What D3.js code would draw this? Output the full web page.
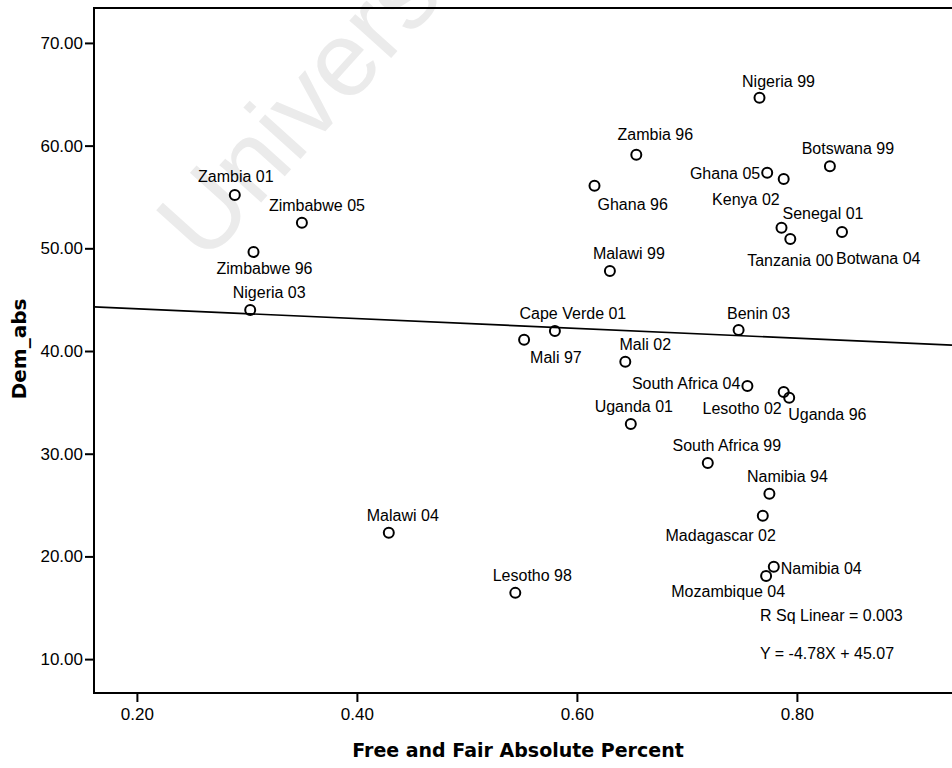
<!DOCTYPE html>
<html>
<head>
<meta charset="utf-8">
<script src="https://cdn.jsdelivr.net/npm/d3@7/dist/d3.min.js"></script>
<style>
  html, body { margin: 0; padding: 0; background: #fff; }
  svg { display: block; }
</style>
</head>
<body>
<svg id="chart" width="952" height="768"></svg>
<script>
// Election cases: country-year label, free-and-fair share (x), democracy score (y)
const cases = ["Zambia 01", "Zimbabwe 05", "Zimbabwe 96", "Nigeria 03", "Malawi 04", "Lesotho 98",
  "Mali 97", "Cape Verde 01", "Mali 02", "Uganda 01", "South Africa 04", "Malawi 99", "Ghana 96",
  "Zambia 96", "Nigeria 99", "Ghana 05", "Kenya 02", "Botswana 99", "Senegal 01", "Tanzania 00",
  "Botwana 04", "Benin 03", "Lesotho 02", "Uganda 96", "South Africa 99", "Namibia 94",
  "Madagascar 02", "Namibia 04", "Mozambique 04"];
const freeFair = [0.289, 0.350, 0.306, 0.303, 0.429, 0.544,
  0.552, 0.580, 0.644, 0.649, 0.755, 0.630, 0.616,
  0.654, 0.766, 0.773, 0.788, 0.830, 0.786, 0.794,
  0.841, 0.747, 0.788, 0.793, 0.719, 0.775,
  0.769, 0.779, 0.772];
const demAbs = [55.2, 52.5, 49.65, 44.0, 22.3, 16.45,
  41.1, 41.95, 38.95, 32.9, 36.6, 47.8, 56.1,
  59.1, 64.65, 57.35, 56.75, 58.0, 52.0, 50.9,
  51.6, 42.05, 36.0, 35.45, 29.1, 26.1,
  23.95, 19.0, 18.1];

// Linear fit reported for the data
const fitSlope = -4.78;
const fitIntercept = 45.07;
const fitRSq = "0.003";

const xTicks = [0.2, 0.4, 0.6, 0.8];
const yTicks = [10, 20, 30, 40, 50, 60, 70];

// Label placement per case: [dx, dy, anchor] relative to the marker
const labelPlacement = [
  [1, -13, "middle"], [15, -12, "middle"], [11, 22, "middle"], [19, -12, "middle"],
  [14, -12, "middle"], [17, -12, "middle"], [6, 23, "start"], [18, -12, "middle"],
  [20, -12, "middle"], [3, -12, "middle"], [-7, 3, "end"], [19, -12, "middle"],
  [3, 24, "start"], [19, -15, "middle"], [19, -11, "middle"], [-7, 6, "end"],
  [-4, 26, "end"], [18, -12, "middle"], [1, -9, "start"], [0, 27, "middle"],
  [-6, 32, "start"], [20, -11, "middle"], [-2, 22, "end"], [-1, 22, "start"],
  [19, -12, "middle"], [18, -12, "middle"], [13, 25, "end"], [7, 7, "start"],
  [19, 21, "end"]
];

const svg = d3.select("#chart");
const plotLeft = 94, plotTop = 8, plotBottom = 693, plotRight = 952;

const x = d3.scaleLinear().domain([0.161, 0.941]).range([plotLeft, plotRight]);
const y = d3.scaleLinear().domain([6.7, 73.4]).range([plotBottom, plotTop]);

// faint watermark behind the plot
svg.append("text")
  .attr("transform", "translate(205,265) rotate(-48)")
  .attr("font-family", "Liberation Sans, Arial, sans-serif")
  .attr("font-size", 106)
  .attr("fill", "#ebebeb")
  .text("University of Cape Town");

// axes
const yAxis = d3.axisLeft(y).tickValues(yTicks).tickFormat(d3.format(".2f")).tickSize(9).tickPadding(2);
const xAxis = d3.axisBottom(x).tickValues(xTicks).tickFormat(d3.format(".2f")).tickSize(9).tickPadding(6);

const gy = svg.append("g").attr("transform", `translate(${plotLeft},0)`).call(yAxis);
const gx = svg.append("g").attr("transform", `translate(0,${plotBottom})`).call(xAxis);
[gx, gy].forEach(g => {
  g.select(".domain").remove();
  g.selectAll(".tick line").attr("stroke", "#000").attr("stroke-width", 2);
  g.selectAll(".tick text")
    .attr("font-family", "Liberation Sans, Arial, sans-serif")
    .attr("font-size", 17)
    .attr("fill", "#000");
});

// frame: left, bottom, top
svg.append("path")
  .attr("d", `M${plotRight},${plotTop}H${plotLeft}V${plotBottom}H${plotRight}`)
  .attr("fill", "none")
  .attr("stroke", "#000")
  .attr("stroke-width", 2);

// fit line across the x range
const [x0, x1] = x.domain();
svg.append("line")
  .attr("x1", x(x0)).attr("y1", y(fitSlope * x0 + fitIntercept))
  .attr("x2", x(x1)).attr("y2", y(fitSlope * x1 + fitIntercept))
  .attr("stroke", "#000")
  .attr("stroke-width", 1.6);

// markers
const pts = cases.map((c, i) => ({ name: c, fx: freeFair[i], dy: demAbs[i], lab: labelPlacement[i] }));
svg.append("g").selectAll("circle").data(pts).join("circle")
  .attr("cx", d => x(d.fx))
  .attr("cy", d => y(d.dy))
  .attr("r", 5)
  .attr("fill", "none")
  .attr("stroke", "#000")
  .attr("stroke-width", 2);

// case labels
svg.append("g").selectAll("text").data(pts).join("text")
  .attr("x", d => x(d.fx) + d.lab[0])
  .attr("y", d => y(d.dy) + d.lab[1])
  .attr("text-anchor", d => d.lab[2])
  .attr("font-family", "Liberation Sans, Arial, sans-serif")
  .attr("font-size", 16)
  .attr("fill", "#000")
  .text(d => d.name);

// fit statistics
const stats = svg.append("g")
  .attr("font-family", "Liberation Sans, Arial, sans-serif")
  .attr("font-size", 16)
  .attr("fill", "#000");
stats.append("text").attr("x", 760).attr("y", 621).text(`R Sq Linear = ${fitRSq}`);
stats.append("text").attr("x", 760).attr("y", 659)
  .text(`Y = ${fitSlope.toFixed(2)}X + ${fitIntercept.toFixed(2)}`);

// axis titles
svg.append("text")
  .attr("x", 518).attr("y", 757)
  .attr("text-anchor", "middle")
  .attr("font-family", "DejaVu Sans, Verdana, sans-serif")
  .attr("font-weight", "bold")
  .attr("font-size", 19)
  .attr("fill", "#000")
  .text("Free and Fair Absolute Percent");

svg.append("text")
  .attr("transform", "translate(26,349) rotate(-90)")
  .attr("text-anchor", "middle")
  .attr("font-family", "DejaVu Sans, Verdana, sans-serif")
  .attr("font-weight", "bold")
  .attr("font-size", 20)
  .attr("fill", "#000")
  .text("Dem_abs");
</script>
</body>
</html>
